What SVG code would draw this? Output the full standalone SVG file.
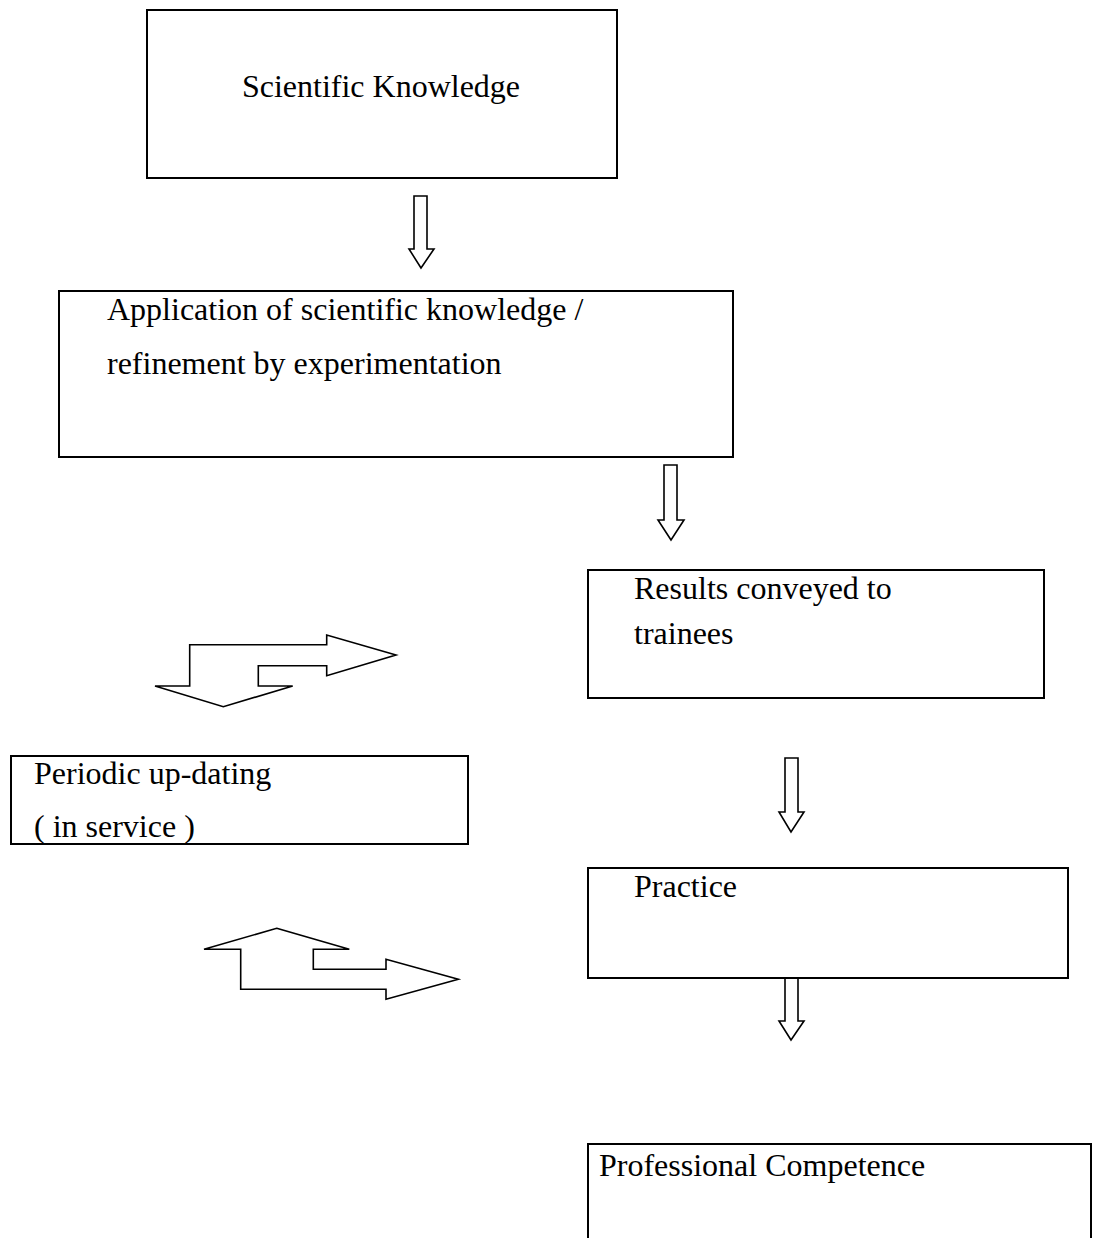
<svg xmlns="http://www.w3.org/2000/svg" width="1095" height="1238" viewBox="0 0 1095 1238">
  <style>
    .box { fill: #ffffff; stroke: #000000; stroke-width: 2; }
    .arrow { fill: #ffffff; stroke: #000000; stroke-width: 1.6; stroke-linejoin: miter; }
    .label { font-family: "Liberation Serif", "Times New Roman", serif; font-size: 32px; fill: #000000; }
  </style>
  <rect width="1095" height="1238" fill="#ffffff"/>

  <g id="connectors">
    <!-- block arrows pointing down between stages -->
    <polygon class="arrow" points="414,196 427,196 427,249 434,249 421,268 409,249 414,249"/>
    <polygon class="arrow" points="664,465 677,465 677,520 684,520 671,540 658,520 664,520"/>
    <polygon class="arrow" points="785,758 798,758 798,812 804,812 791,832 779,812 785,812"/>
    <polygon class="arrow" points="785,968 798,968 798,1021 804,1021 791,1040 779,1021 785,1021"/>
    <!-- bent arrow: right and down -->
    <polygon class="arrow" points="189.7,644.7 326.7,644.7 326.7,635 396,655 326.7,675.7 326.7,665.7 258.3,665.7 258.3,686 292.7,686 223.3,706.7 155,686 189.7,686"/>
    <!-- bent arrow: up and right -->
    <polygon class="arrow" points="276.7,928.3 349.3,949.3 313.3,949.3 313.3,969.3 386,969.3 386,959.3 458.3,979.3 386,999.3 386,989.3 240.7,989.3 240.7,949.3 204,949.3"/>
  </g>

  <g id="scientific-knowledge">
    <rect class="box" x="147" y="10" width="470" height="168"/>
    <text class="label" x="381" y="97" text-anchor="middle">Scientific Knowledge</text>
  </g>

  <g id="application">
    <rect class="box" x="59" y="291" width="674" height="166"/>
    <text class="label" x="107" y="320">Application of scientific knowledge /</text>
    <text class="label" x="107" y="374">refinement by experimentation</text>
  </g>

  <g id="results">
    <rect class="box" x="588" y="570" width="456" height="128"/>
    <text class="label" x="634" y="599">Results conveyed to</text>
    <text class="label" x="634" y="644">trainees</text>
  </g>

  <g id="periodic-updating">
    <rect class="box" x="11" y="756" width="457" height="88"/>
    <text class="label" x="34" y="784">Periodic up-dating</text>
    <text class="label" x="34" y="837">( in service )</text>
  </g>

  <g id="practice">
    <rect class="box" x="588" y="868" width="480" height="110"/>
    <text class="label" x="634" y="897">Practice</text>
  </g>

  <g id="professional-competence">
    <rect class="box" x="588" y="1144" width="503" height="100"/>
    <text class="label" x="599" y="1176">Professional Competence</text>
  </g>
</svg>
